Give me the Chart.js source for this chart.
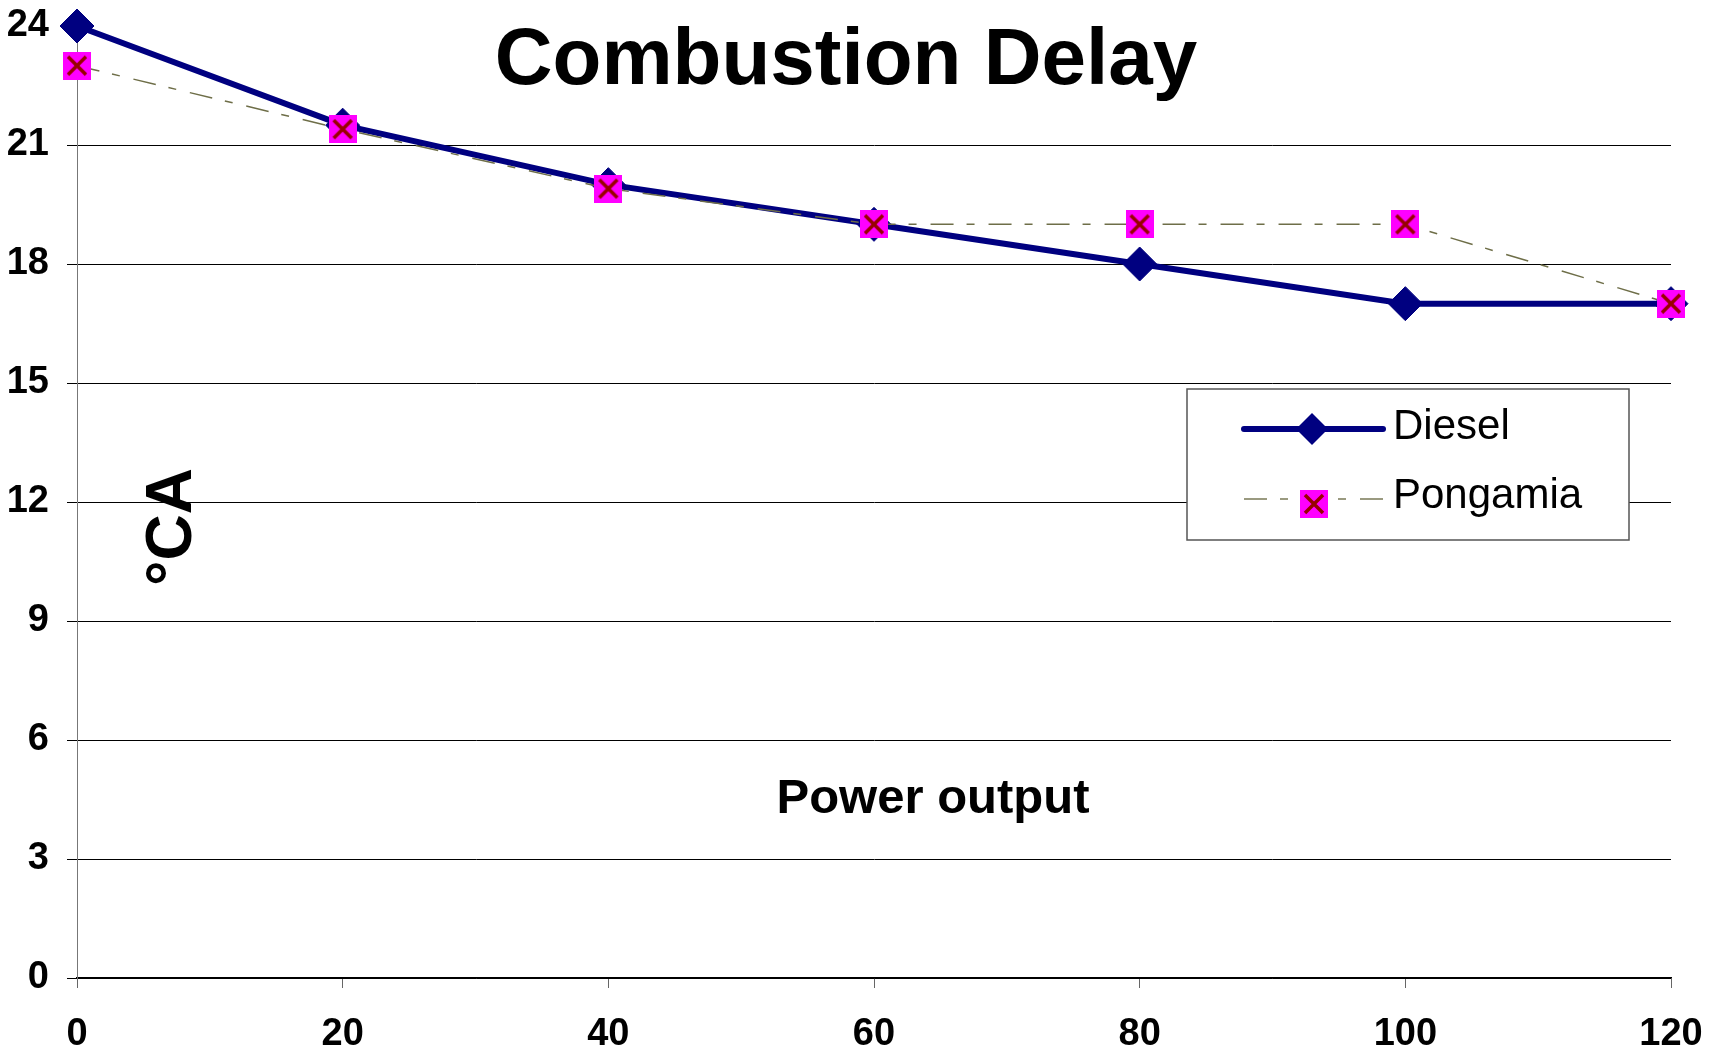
<!DOCTYPE html>
<html>
<head>
<meta charset="utf-8">
<title>Combustion Delay</title>
<script src="https://cdn.jsdelivr.net/npm/chart.js@4"></script>
<style>
  html, body { margin: 0; padding: 0; background: #fff; }
  #wrap { width: 1723px; height: 1049px; position: relative; }
</style>
</head>
<body>
<div id="wrap"><canvas id="delayChart"></canvas></div>
<script>
// data
const powerOutput = [0, 20, 40, 60, 80, 100, 120];
const dieselDelay = [24, 21.5, 20, 19, 18, 17, 17];
const pongamiaDelay = [23, 21.4, 19.9, 19, 19, 19, 17];
const yTicks = [0, 3, 6, 9, 12, 15, 18, 21, 24];

const FONT = '"Liberation Sans", Arial, sans-serif';
const NAVY = '#000080';
const OLIVE = '#6e6e48';
const DASH = [23, 13, 8, 14];

// magenta square with a dark red cross, used as the Pongamia marker
function makePongamiaMarker() {
    const c = document.createElement('canvas');
    c.width = 28;
    c.height = 28;
    const g = c.getContext('2d');
    g.fillStyle = '#ff00ff';
    g.fillRect(0, 0, 28, 28);
    g.strokeStyle = '#990000';
    g.lineWidth = 3.5;
    g.beginPath();
    g.moveTo(5, 5); g.lineTo(23, 23);
    g.moveTo(23, 5); g.lineTo(5, 23);
    g.stroke();
    return c;
}
const pongamiaMarker = makePongamiaMarker();

function toPoints(xs, ys) {
    return xs.map((x, i) => ({ x: x, y: ys[i] }));
}

function drawDiamond(ctx, x, y, r) {
    ctx.beginPath();
    ctx.moveTo(x - r, y);
    ctx.lineTo(x, y - r);
    ctx.lineTo(x + r, y);
    ctx.lineTo(x, y + r);
    ctx.closePath();
    ctx.fill();
}

// title, axis labels and the boxed legend sit inside the plot
const overlayPlugin = {
    id: 'overlay',
    afterDraw(chart) {
        const ctx = chart.ctx;
        ctx.save();
        ctx.fillStyle = '#000';
        ctx.textAlign = 'center';
        ctx.textBaseline = 'middle';

        ctx.font = 'bold 80px ' + FONT;
        ctx.fillText('Combustion Delay', 846, 62);

        ctx.font = 'bold 49px ' + FONT;
        ctx.fillText('Power output', 933, 799);

        ctx.save();
        ctx.translate(173, 527);
        ctx.rotate(-Math.PI / 2);
        ctx.font = 'bold 64px ' + FONT;
        ctx.fillText('°CA', 0, 0);
        ctx.restore();

        // legend box
        ctx.fillStyle = '#fff';
        ctx.fillRect(1187, 389, 442, 151);
        ctx.strokeStyle = '#555';
        ctx.lineWidth = 1.5;
        ctx.strokeRect(1187, 389, 442, 151);

        // Diesel entry
        ctx.strokeStyle = NAVY;
        ctx.lineWidth = 6;
        ctx.lineCap = 'round';
        ctx.beginPath();
        ctx.moveTo(1244, 429);
        ctx.lineTo(1383, 429);
        ctx.stroke();
        ctx.fillStyle = NAVY;
        drawDiamond(ctx, 1312, 429, 16);

        // Pongamia entry
        ctx.lineCap = 'butt';
        ctx.strokeStyle = '#9a9a80';
        ctx.lineWidth = 2;
        ctx.setLineDash(DASH);
        ctx.beginPath();
        ctx.moveTo(1244, 499);
        ctx.lineTo(1383, 499);
        ctx.stroke();
        ctx.setLineDash([]);
        ctx.drawImage(pongamiaMarker, 1300, 490, 28, 28);

        ctx.fillStyle = '#000';
        ctx.textAlign = 'left';
        ctx.textBaseline = 'alphabetic';
        ctx.font = '42px ' + FONT;
        ctx.fillText('Diesel', 1393, 439);
        ctx.fillText('Pongamia', 1393, 508);
        ctx.restore();
    }
};

const ctx = document.getElementById('delayChart').getContext('2d');
const chart = new Chart(ctx, {
    type: 'line',
    data: {
        datasets: [
            {
                label: 'Diesel',
                data: toPoints(powerOutput, dieselDelay),
                borderColor: NAVY,
                backgroundColor: NAVY,
                borderWidth: 6,
                pointStyle: 'rectRot',
                pointRadius: 17,
                pointBorderWidth: 1,
                tension: 0,
                clip: false,
                order: 2
            },
            {
                label: 'Pongamia',
                data: toPoints(powerOutput, pongamiaDelay),
                borderColor: OLIVE,
                backgroundColor: '#ff00ff',
                borderWidth: 1.5,
                borderDash: DASH,
                pointStyle: pongamiaMarker,
                pointRadius: 14,
                tension: 0,
                clip: false,
                order: 1
            }
        ]
    },
    options: {
        responsive: true,
        maintainAspectRatio: false,
        animation: false,
        layout: { padding: { top: 26, right: 52, left: 0, bottom: 0 } },
        plugins: {
            legend: { display: false },
            tooltip: { enabled: false },
            title: { display: false }
        },
        scales: {
            x: {
                type: 'linear',
                min: 0,
                max: 120,
                ticks: {
                    stepSize: 20,
                    color: '#000',
                    padding: 24,
                    font: { family: FONT, size: 38, weight: 'bold' }
                },
                grid: {
                    drawOnChartArea: false,
                    drawTicks: true,
                    tickLength: 10,
                    color: '#666'
                },
                border: { color: '#000', width: 1.5 },
                afterFit: (scale) => {
                    scale.height = 71;
                    scale.paddingLeft = 0;
                    scale.paddingRight = 0;
                }
            },
            y: {
                min: 0,
                max: 24,
                afterBuildTicks: (scale) => {
                    scale.ticks = yTicks.map(v => ({ value: v }));
                },
                ticks: {
                    color: '#000',
                    padding: 18,
                    font: { family: FONT, size: 38, weight: 'bold' }
                },
                grid: {
                    tickLength: 10,
                    lineWidth: 1,
                    color: (c) => (c.tick && c.tick.value === 24 ? 'rgba(0,0,0,0)' : '#000')
                },
                border: { color: '#777', width: 1 },
                afterFit: (scale) => {
                    scale.width = 77;
                    scale.paddingTop = 0;
                    scale.paddingBottom = 0;
                }
            }
        }
    },
    plugins: [overlayPlugin]
});
</script>
</body>
</html>
